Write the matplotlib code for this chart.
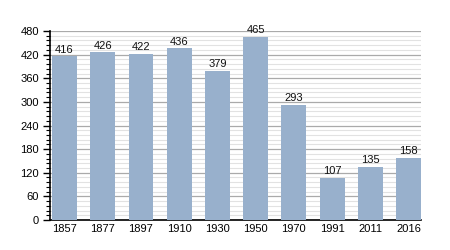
import matplotlib
matplotlib.use("Agg")
import matplotlib.pyplot as plt
from matplotlib.ticker import MultipleLocator

years = ["1857", "1877", "1897", "1910", "1930", "1950", "1970", "1991", "2011", "2016"]
population = [416, 426, 422, 436, 379, 465, 293, 107, 135, 158]
y_ticks = [0, 60, 120, 180, 240, 300, 360, 420, 480]

plt.rcParams['font.family'] = ['Liberation Sans', 'DejaVu Sans']

fig = plt.figure(figsize=(4.5, 2.5), dpi=100)
ax = fig.add_axes([0.111, 0.12, 0.825, 0.756])

x = list(range(len(years)))
bars = ax.bar(x, population, width=0.65, color="#98b0cc", zorder=3)
for xi, v in zip(x, population):
    ax.text(xi, v + 4, str(v), ha="center", va="bottom", fontsize=8, color="#111111", zorder=4)

ax.set_xlim(-0.38, 9.33)
ax.set_ylim(0, 480)
ax.set_yticks(y_ticks)
ax.set_yticklabels([str(t) for t in y_ticks])
ax.yaxis.set_minor_locator(MultipleLocator(12))
ax.set_xticks(x)
ax.set_xticklabels(years)

ax.grid(axis="y", which="major", color="#aaaaaa", linewidth=0.9, zorder=0)
ax.grid(axis="y", which="minor", color="#e2e2e2", linewidth=0.8, zorder=0)
ax.set_axisbelow(True)

for s in ["top", "right"]:
    ax.spines[s].set_visible(False)
ax.spines["left"].set_linewidth(1.2)
ax.spines["bottom"].set_linewidth(1.2)
ax.tick_params(axis="y", which="major", length=5, width=1, labelsize=8, pad=3)
ax.tick_params(axis="y", which="minor", length=3, width=0.8)
ax.tick_params(axis="x", length=0, labelsize=8, pad=3)

fig.savefig("out.png", dpi=100)
